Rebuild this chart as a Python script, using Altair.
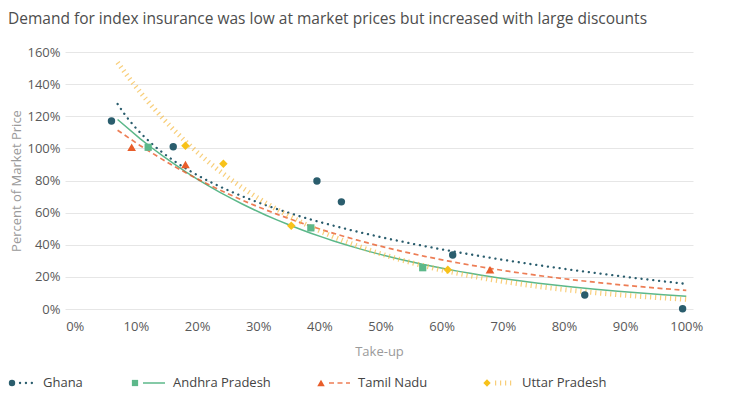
import altair as alt
import pandas as pd

# ---- data ----
series_names = ["Ghana", "Andhra Pradesh", "Tamil Nadu", "Uttar Pradesh"]

ghana_x = [6.0, 16.1, 39.6, 43.6, 61.8, 83.4, 99.4]
ghana_y = [117.0, 101.0, 79.7, 66.7, 33.6, 8.7, 0.2]
andhra_x = [12.0, 38.6, 56.9]
andhra_y = [100.7, 50.5, 25.7]
tamil_x = [9.3, 18.1, 67.9]
tamil_y = [100.7, 90.0, 24.5]
uttar_x = [18.1, 24.3, 35.4, 61.0]
uttar_y = [101.6, 90.5, 51.9, 24.5]

x_ticks = [0, 10, 20, 30, 40, 50, 60, 70, 80, 90, 100]
y_ticks = [0, 20, 40, 60, 80, 100, 120, 140, 160]

title_text = "Demand for index insurance was low at market prices but increased with large discounts"

rows = []
for name, xs, ys in [("Ghana", ghana_x, ghana_y), ("Andhra Pradesh", andhra_x, andhra_y),
                     ("Tamil Nadu", tamil_x, tamil_y), ("Uttar Pradesh", uttar_x, uttar_y)]:
    for xv, yv in zip(xs, ys):
        rows.append({"series": name, "x": xv, "y": yv})
df = pd.DataFrame(rows)

# ---- styles ----
FONT = "Open Sans"
styles = {
    "Ghana": dict(color="#2a5d6d", shape="circle", size=55, fit="log",
                  line=dict(color="#2a5d6d", strokeWidth=2.3, strokeDash=[0.1, 5.8], strokeCap="round")),
    "Andhra Pradesh": dict(color="#5cb88a", shape="square", size=52, fit="exp",
                           line=dict(color="#5cb88a", strokeWidth=1.5)),
    "Tamil Nadu": dict(color="#e85d2a", shape="triangle-up", size=75, fit="exp",
                       line=dict(color="#e85d2a", strokeWidth=1.7, strokeDash=[5, 3.5], opacity=0.8)),
    "Uttar Pradesh": dict(color="#f5b942", shape="diamond", size=72, fit="exp",
                          line=dict(color="#f5bb45", strokeWidth=5, strokeDash=[1.2, 3.8], opacity=0.72)),
}
styles["Uttar Pradesh"]["color"] = "#f7c21a"
legend_left = {"Ghana": -53, "Andhra Pradesh": 70, "Tamil Nadu": 256, "Uttar Pradesh": 422}
legend_label_x = {"Ghana": -22, "Andhra Pradesh": 108, "Tamil Nadu": 293, "Uttar Pradesh": 457}
legend_y = 331

x_scale = alt.Scale(domain=[-1.6, 101.1], nice=False, zero=False)
y_scale = alt.Scale(domain=[0, 160], nice=False)

x_axis = alt.Axis(values=x_ticks, tickCount=len(x_ticks), labelExpr="datum.value + '%'",
                  title="Take-up", grid=False, domain=False, ticks=False, labelPadding=11,
                  labelOverlap=False, labelFont=FONT, labelFontSize=13, labelColor="#595959",
                  titleFont=FONT, titleFontSize=13, titleColor="#9a9a9a",
                  titleFontWeight="normal", titlePadding=12)
y_axis = alt.Axis(values=y_ticks, tickCount=len(y_ticks), labelExpr="datum.value + '%'",
                  title="Percent of Market Price",
                  grid=True, gridColor="#e6e6e6", gridWidth=1, domain=False, ticks=False,
                  labelPadding=5, labelOverlap=False, labelFont=FONT, labelFontSize=13,
                  labelColor="#595959",
                  titleFont=FONT, titleFontSize=13, titleColor="#9a9a9a",
                  titleFontWeight="normal", titleX=-42)

base = alt.Chart(df)
layers = []

# axes / gridlines
layers.append(base.mark_point(opacity=0).encode(
    x=alt.X("x:Q", scale=x_scale, axis=x_axis),
    y=alt.Y("y:Q", scale=y_scale, axis=y_axis)))

# trend lines (regressions computed by Vega-Lite)
for name in series_names:
    st = styles[name]
    layers.append(base.transform_filter(alt.datum.series == name)
                  .transform_regression("x", "y", method=st["fit"], extent=[7, 100])
                  .mark_line(**st["line"])
                  .encode(x=alt.X("x:Q", scale=x_scale), y=alt.Y("y:Q", scale=y_scale)))

# points
for name in series_names:
    st = styles[name]
    layers.append(base.transform_filter(alt.datum.series == name)
                  .mark_point(shape=st["shape"], filled=True, color=st["color"],
                              size=st["size"], opacity=1)
                  .encode(x=alt.X("x:Q", scale=x_scale), y=alt.Y("y:Q", scale=y_scale)))

# custom legend (marker + line sample + label)
leg_df = pd.DataFrame({"series": series_names})
for name in series_names:
    st = styles[name]
    lx = legend_left[name]
    lb = alt.Chart(leg_df).transform_filter(alt.datum.series == name)
    layers.append(lb.mark_point(shape=st["shape"], filled=True, color=st["color"],
                                size=st["size"] * 0.75, opacity=1)
                  .encode(x=alt.value(lx), y=alt.value(legend_y)))
    layers.append(lb.mark_rule(**st["line"])
                  .encode(x=alt.value(lx + 8), x2=alt.value(legend_label_x[name] - 8),
                          y=alt.value(legend_y)))
    layers.append(lb.mark_text(align="left", baseline="middle", font=FONT, fontSize=13,
                               color="#444444")
                  .encode(x=alt.value(legend_label_x[name]), y=alt.value(legend_y),
                          text="series:N"))

chart = alt.layer(*layers).properties(
    width=628, height=257,
    autosize=alt.AutoSizeParams(type="none"),
    padding={"left": 57, "top": 44, "right": 35, "bottom": 82},
    title=alt.TitleParams(title_text, anchor="start", frame="group", dx=-57, offset=19,
                          font=FONT, fontSize=15.5, fontWeight="normal", color="#4d4d4d"),
).configure_view(stroke=None)

chart.save("out.html", embed_options={"renderer": "svg", "actions": False})
